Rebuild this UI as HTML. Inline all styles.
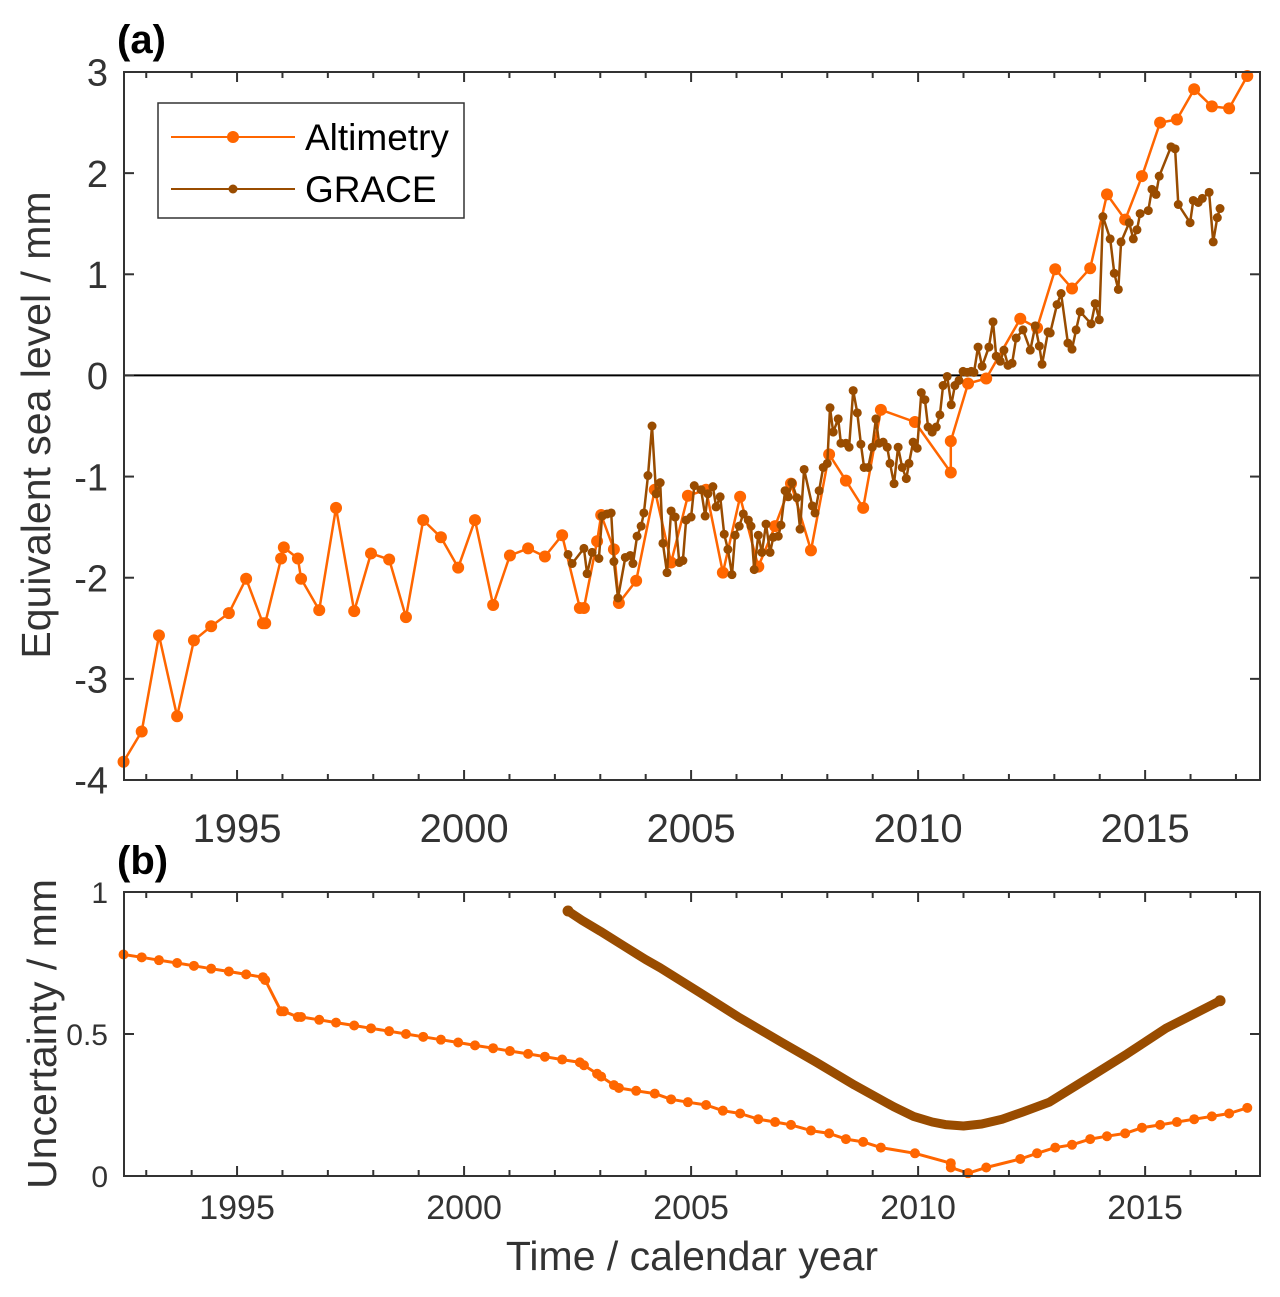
<!DOCTYPE html>
<html><head><meta charset="utf-8">
<style>
html,body{margin:0;padding:0;background:#fff;}
svg text{font-family:"Liberation Sans",Arial,sans-serif;}
</style></head>
<body>
<svg id="chart" width="1280" height="1297" viewBox="0 0 1280 1297" xmlns="http://www.w3.org/2000/svg" style="position:absolute;left:0;top:0">
<rect width="1280" height="1297" fill="#fff"/>
<g id="top"></g>
<g id="bot"></g>
<text x="117" y="53" font-size="40" font-weight="bold" fill="#000">(a)</text>
<text x="117" y="874" font-size="40" font-weight="bold" fill="#000">(b)</text>
<text transform="translate(50,425) rotate(-90)" text-anchor="middle" font-size="41" fill="#333">Equivalent sea level / mm</text>
<text transform="translate(56,1034) rotate(-90)" text-anchor="middle" font-size="41" fill="#333">Uncertainty / mm</text>
<text x="692" y="1270" text-anchor="middle" font-size="41" fill="#333">Time / calendar year</text>
</svg>
<script>
// ---------- data ----------
const altYears=[1992.5,1992.9,1993.28,1993.68,1994.05,1994.43,1994.82,1995.2,1995.57,1995.62,1995.97,1996.03,1996.34,1996.41,1996.81,1997.18,1997.58,1997.95,1998.35,1998.72,1999.1,1999.49,1999.87,2000.24,2000.64,2001.01,2001.41,2001.78,2002.16,2002.55,2002.64,2002.93,2003.02,2003.3,2003.41,2003.79,2004.2,2004.56,2004.93,2005.33,2005.7,2006.08,2006.48,2006.85,2007.2,2007.64,2008.04,2008.41,2008.79,2009.18,2009.93,2010.72,2010.72,2011.1,2011.5,2012.25,2012.62,2013.02,2013.39,2013.79,2014.16,2014.56,2014.93,2015.33,2015.7,2016.08,2016.47,2016.85,2017.25];
const altValues=[-3.82,-3.52,-2.57,-3.37,-2.62,-2.48,-2.35,-2.01,-2.45,-2.45,-1.81,-1.70,-1.81,-2.01,-2.32,-1.31,-2.33,-1.76,-1.82,-2.39,-1.43,-1.60,-1.90,-1.43,-2.27,-1.78,-1.71,-1.79,-1.58,-2.30,-2.30,-1.64,-1.38,-1.72,-2.25,-2.03,-1.13,-1.85,-1.19,-1.13,-1.95,-1.20,-1.89,-1.49,-1.07,-1.73,-0.78,-1.04,-1.31,-0.34,-0.46,-0.96,-0.65,-0.08,-0.03,0.56,0.47,1.05,0.86,1.06,1.79,1.54,1.97,2.50,2.53,2.83,2.66,2.64,2.96];
const altUnc=[0.78,0.77,0.76,0.75,0.74,0.73,0.72,0.71,0.70,0.69,0.58,0.58,0.56,0.56,0.55,0.54,0.53,0.52,0.51,0.50,0.49,0.48,0.47,0.46,0.45,0.44,0.43,0.42,0.41,0.40,0.39,0.36,0.35,0.32,0.31,0.30,0.29,0.27,0.26,0.25,0.23,0.22,0.20,0.19,0.18,0.16,0.15,0.13,0.12,0.10,0.08,0.045,0.03,0.01,0.03,0.06,0.08,0.10,0.11,0.13,0.14,0.15,0.17,0.18,0.19,0.20,0.21,0.22,0.24];
const graceYears=[2002.29,2002.38,2002.64,2002.71,2002.82,2002.97,2003.04,2003.15,2003.24,2003.30,2003.39,2003.55,2003.66,2003.72,2003.81,2003.90,2003.96,2004.05,2004.14,2004.23,2004.32,2004.38,2004.47,2004.56,2004.65,2004.74,2004.82,2004.89,2005.00,2005.07,2005.22,2005.31,2005.37,2005.48,2005.55,2005.64,2005.73,2005.81,2005.90,2005.97,2006.06,2006.15,2006.26,2006.32,2006.39,2006.48,2006.56,2006.65,2006.74,2006.81,2006.92,2006.98,2007.07,2007.14,2007.22,2007.33,2007.40,2007.49,2007.67,2007.73,2007.82,2007.91,2008.00,2008.06,2008.13,2008.24,2008.30,2008.41,2008.48,2008.57,2008.66,2008.74,2008.81,2008.90,2008.99,2009.07,2009.14,2009.23,2009.32,2009.38,2009.47,2009.56,2009.65,2009.74,2009.80,2009.89,2009.98,2010.07,2010.15,2010.22,2010.31,2010.40,2010.48,2010.55,2010.64,2010.73,2010.81,2010.90,2010.99,2011.08,2011.17,2011.23,2011.32,2011.41,2011.56,2011.65,2011.72,2011.81,2011.89,2011.98,2012.07,2012.16,2012.31,2012.47,2012.58,2012.67,2012.73,2012.86,2012.91,2013.06,2013.15,2013.30,2013.39,2013.48,2013.57,2013.81,2013.90,2013.99,2014.07,2014.23,2014.32,2014.41,2014.47,2014.65,2014.74,2014.82,2014.89,2015.07,2015.15,2015.24,2015.31,2015.57,2015.66,2015.73,2015.99,2016.06,2016.17,2016.26,2016.41,2016.50,2016.59,2016.65];
const graceValues=[-1.77,-1.86,-1.71,-1.96,-1.75,-1.81,-1.39,-1.37,-1.36,-1.84,-2.20,-1.80,-1.78,-1.86,-1.59,-1.49,-1.36,-0.99,-0.50,-1.17,-1.06,-1.66,-1.95,-1.34,-1.40,-1.85,-1.83,-1.43,-1.40,-1.09,-1.13,-1.39,-1.17,-1.10,-1.30,-1.20,-1.57,-1.72,-1.97,-1.58,-1.49,-1.37,-1.43,-1.49,-1.92,-1.58,-1.75,-1.47,-1.75,-1.60,-1.59,-1.48,-1.14,-1.20,-1.06,-1.21,-1.52,-0.93,-1.29,-1.36,-1.14,-0.91,-0.87,-0.32,-0.56,-0.43,-0.67,-0.67,-0.71,-0.15,-0.37,-0.68,-0.91,-0.91,-0.71,-0.43,-0.67,-0.66,-0.71,-0.87,-1.07,-0.71,-0.91,-1.02,-0.87,-0.66,-0.72,-0.17,-0.24,-0.51,-0.56,-0.51,-0.39,-0.10,-0.01,-0.29,-0.10,-0.05,0.04,0.03,0.04,0.03,0.28,0.09,0.28,0.53,0.19,0.14,0.25,0.10,0.12,0.37,0.45,0.25,0.49,0.29,0.11,0.43,0.42,0.70,0.81,0.32,0.26,0.45,0.63,0.51,0.71,0.55,1.57,1.35,1.01,0.85,1.32,1.51,1.35,1.44,1.60,1.63,1.84,1.79,1.97,2.26,2.24,1.69,1.51,1.73,1.71,1.75,1.81,1.32,1.56,1.65];
const graceUncYears=[2002.29,2002.6,2003.0,2003.52,2004.0,2004.32,2005.2,2006.03,2007.0,2007.74,2008.6,2009.46,2009.9,2010.31,2010.6,2011.0,2011.4,2011.85,2012.3,2012.89,2013.75,2014.6,2015.46,2016.65];
const graceUncValues=[0.933,0.90,0.862,0.81,0.762,0.733,0.645,0.561,0.47,0.402,0.32,0.244,0.21,0.19,0.181,0.176,0.183,0.20,0.225,0.26,0.345,0.43,0.52,0.617];
const yTicksTop=[3,2,1,0,-1,-2,-3,-4];
const yTickLabelsTop=["3","2","1","0","-1","-2","-3","-4"];
const yTicksBot=[1,0.5,0];
const yTickLabelsBot=["1","0.5","0"];
const xTicks=[1995,2000,2005,2010,2015];
const xTickLabels=["1995","2000","2005","2010","2015"];

// ---------- scales ----------
const X0=124,X1=1260;
const xMin=1992.51, xMax=2017.53;
const xs=v=>X0+(v-xMin)/(xMax-xMin)*(X1-X0);
const TOP={y0:72,y1:780,min:-4,max:3};
const BOT={y0:892,y1:1176,min:0,max:1};
const ysT=v=>TOP.y1-(v-TOP.min)/(TOP.max-TOP.min)*(TOP.y1-TOP.y0);
const ysB=v=>BOT.y1-(v-BOT.min)/(BOT.max-BOT.min)*(BOT.y1-BOT.y0);
const NS="http://www.w3.org/2000/svg";
const ORANGE="#ff6600", BROWN="#994c00", AX="#333333";
function mk(tag,attrs,parent){const e=document.createElementNS(NS,tag);for(const k in attrs)e.setAttribute(k,attrs[k]);parent.appendChild(e);return e;}

function axes(g,P,ys,yt,ytl,fs,xfs,xly,name){
  for(let yr=1993;yr<=2017;yr++){
    const x=xs(yr);const len=(yr%5===0)?10:6;
    const t1=mk('line',{x1:x,x2:x,y1:P.y1,y2:P.y1-len,stroke:AX,'stroke-width':2},g);
    
    
    const t2=mk('line',{x1:x,x2:x,y1:P.y0,y2:P.y0+len,stroke:AX,'stroke-width':2},g);
    
    
  }
  xTicks.forEach((v,i)=>{
    const t=mk('text',{x:xs(v),y:xly,'font-size':xfs,fill:AX,'text-anchor':'middle'},g);
    t.textContent=xTickLabels[i];
    
    
  });
  yt.forEach((v,i)=>{
    const y=ys(v);
    const a=mk('line',{x1:X0,x2:X0+10,y1:y,y2:y,stroke:AX,'stroke-width':2},g);
    
    
    const b=mk('line',{x1:X1,x2:X1-10,y1:y,y2:y,stroke:AX,'stroke-width':2},g);
    
    
    const t=mk('text',{x:X0-16,y:y+fs*0.36,'font-size':fs,fill:AX,'text-anchor':'end'},g);
    t.textContent=ytl[i];
    
    
  });
  const r=mk('rect',{x:X0,y:P.y0,width:X1-X0,height:P.y1-P.y0,fill:'none',stroke:AX,'stroke-width':2},g);
  
  
}
function series(g,years,vals,ys,color,w,r,name,dots){
  const pts=years.map((yr,i)=>xs(yr).toFixed(1)+','+ys(vals[i]).toFixed(1)).join(' ');
  const pl=mk('polyline',{points:pts,fill:'none',stroke:color,'stroke-width':w,'stroke-linejoin':'round','stroke-linecap':'round'},g);
  
  
  if(dots){years.forEach((yr,i)=>{
    const c=mk('circle',{cx:xs(yr),cy:ys(vals[i]),r:r,fill:color},g);
    
    
  });}
}
const gT=document.getElementById('top'), gB=document.getElementById('bot');





const zl=mk('line',{x1:X0,x2:X1,y1:ysT(0),y2:ysT(0),stroke:'#000','stroke-width':2},gT);


series(gT,altYears,altValues,ysT,ORANGE,2.5,6,'altimetry',true);
series(gT,graceYears,graceValues,ysT,BROWN,2.5,4.5,'grace',true);
axes(gT,TOP,ysT,yTicksTop,yTickLabelsTop,38,40,842,'top');

const lg=mk('g',{},gT);


mk('rect',{x:158,y:103,width:306,height:115,fill:'#fff',stroke:AX,'stroke-width':1.5},lg);
[[137,ORANGE,6,'Altimetry',2],[189,BROWN,4.5,'GRACE',2]].forEach(e=>{
  const ent=mk('g',{},lg);
  
  
  mk('line',{x1:171,x2:295,y1:e[0],y2:e[0],stroke:e[1],'stroke-width':e[4]},ent);
  mk('circle',{cx:233,cy:e[0],r:e[2],fill:e[1]},ent);
  const t=mk('text',{x:305,y:e[0]+13,'font-size':37,fill:'#000'},ent);
  t.textContent=e[3];
});

series(gB,altYears,altUnc,ysB,ORANGE,3,5,'altimetry-uncertainty',true);
series(gB,graceUncYears,graceUncValues,ysB,BROWN,9,4,'grace-uncertainty',false);
[[graceUncYears[0],graceUncValues[0]],[graceUncYears[graceUncYears.length-1],graceUncValues[graceUncValues.length-1]]].forEach(p=>{
  const c=mk('circle',{cx:xs(p[0]),cy:ysB(p[1]),r:5.5,fill:BROWN},gB);
  
  
});
axes(gB,BOT,ysB,yTicksBot,yTickLabelsBot,30,34,1219,'bottom');
</script>
</body></html>
